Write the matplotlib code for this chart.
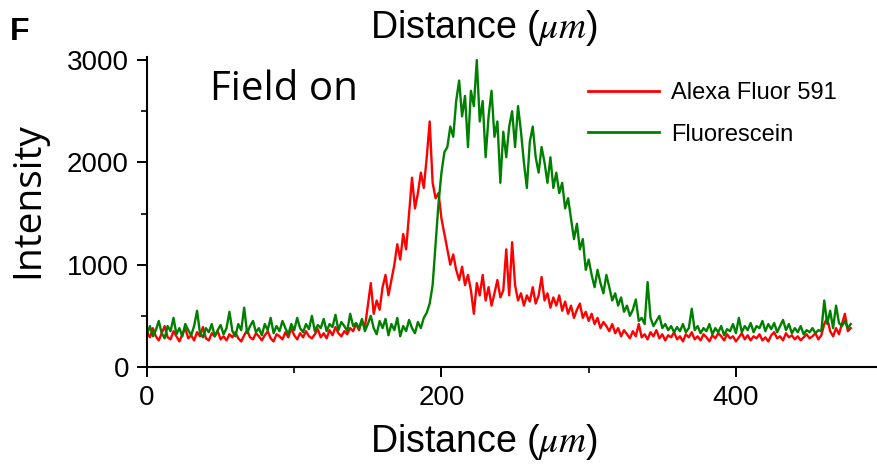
import numpy as np
import matplotlib
matplotlib.use("Agg")
import matplotlib.pyplot as plt

step_um = 2
alexa_591 = [
    # 0 - 140
    340, 290, 380, 300, 260, 330, 400, 290, 270, 350, 300, 250, 320, 380, 280, 310,
    260, 340, 300, 390, 280, 260, 330, 300, 350, 270, 300, 260, 320, 290, 340, 280,
    250, 310, 360, 290, 270, 330, 300, 260, 310, 350, 280, 250, 320, 300, 270, 340,
    290, 380, 310, 270, 330, 290, 350, 300, 280, 320, 370, 290, 330, 280, 360, 310,
    390, 330, 300, 350, 320, 380, 350,
    # 142 - 200
    420, 360, 450, 390, 600, 820, 520, 650, 560, 780, 900, 700, 850, 1000, 1200, 1050,
    1300, 1150, 1500, 1850, 1550, 1700, 1900, 1750, 2050, 2400, 1800, 1650, 1700, 1450,
    # 202 - 300
    1300, 1150, 1000, 1100, 950, 850, 980, 800, 900, 750, 520, 820, 700, 900, 650, 780,
    600, 720, 850, 680, 750, 1150, 700, 1220, 800, 650, 720, 600, 700, 640, 780, 620,
    700, 880, 650, 720, 580, 680, 600, 700, 550, 640, 520, 600, 480, 560, 620, 480,
    540, 450,
    # 302 - 478
    520, 420, 480, 380, 440, 400, 350, 420, 330, 380, 300, 360, 320, 280, 350, 300,
    420, 290, 320, 270, 340, 300, 360, 280, 320, 260, 310, 290, 340, 270, 300, 250,
    320, 290, 340, 270, 300, 260, 320, 290, 250, 310, 280, 330, 300, 260, 320, 280,
    300, 250, 290, 330, 270, 310, 260, 300, 280, 320, 260, 290, 250, 310, 340, 280,
    300, 260, 330, 290, 310, 270, 300, 260, 290, 320, 280, 300, 330, 270, 310, 420,
    480, 350, 300, 380, 320, 420, 520, 350, 380,
]
fluorescein = [
    # 0 - 140
    320, 400, 300, 360, 450, 330, 280, 400, 350, 480, 320, 380, 300, 420, 360, 310,
    400, 550, 330, 290, 380, 340, 420, 300, 360, 410, 320, 380, 540, 350, 300, 420,
    360, 580, 330, 400, 450, 340, 380, 310, 420, 360, 480, 330, 400, 350, 450, 380,
    320, 420, 360, 480, 380, 340, 420, 370, 500, 350, 410, 380, 470, 350, 420, 390,
    510, 360, 440, 400, 350, 520, 400,
    # 142 - 200
    430, 380, 470, 350, 420, 500, 380, 320, 450, 380, 470, 310, 420, 360, 480, 300,
    400, 350, 460, 380, 330, 440, 380, 480, 530, 620, 800, 1200, 1600, 1900,
    # 202 - 300
    2100, 2150, 2350, 2250, 2600, 2800, 2450, 2650, 2150, 2700, 2550, 3000, 2400, 2600, 2050, 2450,
    2700, 2250, 2400, 1800, 2300, 2050, 2350, 2500, 2150, 2550, 2300, 2000, 1750, 2200, 2350, 2050,
    1900, 2150, 2000, 1800, 2050, 1750, 1900, 1700, 1800, 1550, 1650, 1450, 1250, 1400, 1150, 1250,
    950, 1050,
    # 302 - 478
    900, 780, 950, 820, 720, 900, 780, 650, 720, 600, 680, 540, 600, 500, 560, 660,
    450, 480, 420, 830, 480, 400, 450, 500, 380, 420, 360, 400, 340, 390, 350, 420,
    340, 380, 570, 360, 400, 330, 380, 350, 420, 320, 380, 340, 400, 310, 370, 350,
    420, 330, 480, 340, 400, 360, 430, 340, 400, 380, 450, 350, 420, 370, 430, 340,
    400, 460, 360, 420, 330, 380, 340, 400, 320, 360, 340, 380, 330, 360, 350, 650,
    420, 550, 380, 600, 430, 400, 450, 380, 420,
]
series_labels = ["Alexa Fluor 591", "Fluorescein"]
x_ticks = [0, 200, 400]
y_ticks = [0, 1000, 2000, 3000]

dist_red = np.arange(len(alexa_591)) * step_um
dist_green = np.arange(len(fluorescein)) * step_um

plt.rcParams["mathtext.fontset"] = "stix"
W, H = 878, 474
fig = plt.figure(figsize=(W / 100, H / 100), dpi=100)
ax = fig.add_axes([147 / W, 1 - 367 / H, (W - 147) / W, (367 - 57) / H])

ax.plot(dist_red, alexa_591, color="#ff0000", lw=1.7, label=series_labels[0])
ax.plot(dist_green, fluorescein, color="#008000", lw=1.7, label=series_labels[1])

ax.set_xlim(0, 496.5)
ax.set_ylim(0, 3030)
ax.set_xticks(x_ticks)
ax.set_yticks(y_ticks)
ax.set_xticks([100, 300], minor=True)
ax.set_yticks([500, 1500, 2500], minor=True)
tick_font = {"family": "Liberation Sans", "size": 20}
ax.set_xticklabels([str(v) for v in x_ticks], **tick_font)
ax.set_yticklabels([str(v) for v in y_ticks], **tick_font)
ax.tick_params(which="major", length=7, width=1.4, direction="out", pad=6)
ax.tick_params(which="minor", length=4, width=1.2, direction="out")
for s in ["top", "right"]:
    ax.spines[s].set_visible(False)
for s in ["left", "bottom"]:
    ax.spines[s].set_linewidth(1.5)

lab_font = dict(family="Liberation Sans", size=27)
ax.set_xlabel(r"Distance ($\mu m$)", **lab_font)
ax.xaxis.set_label_coords((484 - 147) / (W - 147), (367 - 442) / 310)
ax.xaxis.label.set_va("center")
ax.text((484 - 147) / (W - 147), (367 - 28) / 310, r"Distance ($\mu m$)",
        transform=ax.transAxes, ha="center", va="center", **lab_font)

ax.set_ylabel("Intensity", family="Open Sans", size=28)
ax.yaxis.set_label_coords((28 - 147) / (W - 147), (367 - 200) / 310)
ax.yaxis.label.set_va("center")

ax.text(43, 2610, "Field on", family="Open Sans", size=29, va="baseline", ha="left")
fig.text(10 / W, 1 - 40 / H, "F", family="Liberation Sans", weight="bold", size=23,
         va="baseline", ha="left")

leg = ax.legend(loc="center left", bbox_to_anchor=(588 / W, 1 - 114 / H),
                bbox_transform=fig.transFigure, frameon=False,
                prop={"family": "Liberation Sans", "size": 17},
                handlelength=3.0, handletextpad=0.5, labelspacing=0.82,
                borderaxespad=0, borderpad=0)
for ln in leg.get_lines():
    ln.set_linewidth(2.0)

fig.savefig("out.png", dpi=100)
